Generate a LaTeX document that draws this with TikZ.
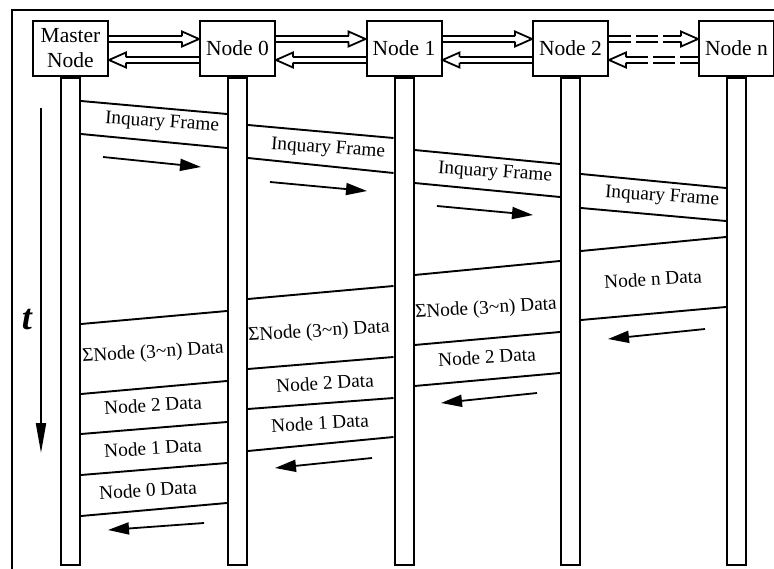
\documentclass[tikz,border=0pt]{standalone}
\usepackage{fontspec}
\setmainfont{Liberation Serif}
\usetikzlibrary{arrows.meta,calc}

\tikzset{
  box/.style={draw, line width=2pt, fill=white, minimum width=75pt, minimum height=55pt,
    inner sep=0pt, align=center, font=\fontsize{21.5}{25}\selectfont},
  lifebar/.style={draw, line width=2pt, minimum width=19pt, minimum height=487pt,
    inner sep=0pt, anchor=north},
  bandline/.style={line width=1.9pt},
  pipe/.style={line width=1.8pt, line join=miter},
  msg/.style={font=\fontsize{19.3}{22}\selectfont, inner sep=0pt},
  flow/.style={line width=1.8pt, -{Triangle[length=21pt,width=12pt]}},
}

% slanted band edge between two lifelines: left y, right y (absolute)
\newcommand\band[4]{\draw[bandline] ($(#1.north east)+(0,#3-76)$) -- ($(#2.north west)+(0,#4-76)$);}

% pair of hollow pipes between two boxes; optional shaft style
\newcommand\pipes[3][]{%
  \draw[pipe] let \p1=(#2.east), \p2=(#3.west) in
    (\x2-17pt,\y1+6.75pt) -- (\x2-17pt,\y1+2pt) -- (\x2,\y1+9.5pt) -- (\x2-17pt,\y1+17pt) -- (\x2-17pt,\y1+12.25pt)
    (\x1+17pt,\y1-8.75pt) -- (\x1+17pt,\y1-4pt) -- (\x1,\y1-11.5pt) -- (\x1+17pt,\y1-19pt) -- (\x1+17pt,\y1-14.25pt);
  \draw[pipe,#1] let \p1=(#2.east), \p2=(#3.west) in
    (\x1,\y1+12.25pt) -- (\x2-17pt,\y1+12.25pt)
    (\x1,\y1+6.75pt) -- (\x2-17pt,\y1+6.75pt)
    (\x1+17pt,\y1-8.75pt) -- (\x2,\y1-8.75pt)
    (\x1+17pt,\y1-14.25pt) -- (\x2,\y1-14.25pt);
}

\begin{document}
\begin{tikzpicture}[x=1pt,y=-1pt]
\useasboundingbox (0,0) rectangle (774,569);

% frame
\draw[line width=2pt] (12,569) -- (12,10) -- (774,10);

% station boxes
\node[box] (m)  at (70.5,48.5) {Master\\Node};
\node[box] (n0) at (237.5,48.5) {Node 0};
\node[box] (n1) at (404,48.5) {Node 1};
\node[box] (n2) at (570.5,48.5) {Node 2};
\node[box] (nn) at (736.5,48.5) {Node n};

% lifelines
\node[lifebar] (lm)  at (m.south) {};
\node[lifebar] (l0)  at (n0.south) {};
\node[lifebar] (l1)  at (n1.south) {};
\node[lifebar] (l2)  at (n2.south) {};
\node[lifebar] (ln)  at (nn.south) {};

% bus links between stations
\pipes{m}{n0}
\pipes{n0}{n1}
\pipes{n1}{n2}
\pipes[dash pattern=on 22pt off 5pt]{n2}{nn}

% time axis
\coordinate (tA) at (41,108);
\coordinate (tB) at (41,453);
\draw[line width=2pt, -{Triangle[length=30pt,width=10pt]}] (tA) -- (tB);
\node[font=\fontsize{36}{36}\selectfont\bfseries\itshape, inner sep=0pt] (tl) at (27,320) {t};

% inquiry frame travelling downstream
\band{lm}{l0}{100}{113} \band{lm}{l0}{133}{147}
\band{l0}{l1}{124}{137} \band{l0}{l1}{157}{172}
\band{l1}{l2}{149}{163} \band{l1}{l2}{182}{196}
\band{l2}{ln}{173}{187} \band{l2}{ln}{207}{220}

\node[msg, rotate=-4] (q0) at (162,123) {Inquary Frame};
\node[msg, rotate=-4] (q1) at (328,149) {Inquary Frame};
\node[msg, rotate=-4] (q2) at (495,173) {Inquary Frame};
\node[msg, rotate=-4] (q3) at (662,197) {Inquary Frame};

\draw[flow] (103,157) -- (201,167);
\draw[flow] (270,182) -- (367,191);
\draw[flow] (437,206) -- (533,215);

% data travelling back upstream
\band{l2}{ln}{250}{236} \band{l2}{ln}{319}{306}
\band{l1}{l2}{274}{260} \band{l1}{l2}{344}{331} \band{l1}{l2}{385}{372}
\band{l0}{l1}{298}{285} \band{l0}{l1}{368}{356} \band{l0}{l1}{408}{397} \band{l0}{l1}{450}{436}
\band{lm}{l0}{323}{310} \band{lm}{l0}{393}{380} \band{lm}{l0}{433}{421} \band{lm}{l0}{474}{462} \band{lm}{l0}{515}{502}

\node[msg, rotate=3.5] (dn)  at (653,279) {Node n Data};
\node[msg, rotate=3.5] (s2)  at (486,309) {ΣNode (3\textasciitilde n) Data};
\node[msg, rotate=3.5] (s1)  at (319,332) {ΣNode (3\textasciitilde n) Data};
\node[msg, rotate=3.5] (s0)  at (153,353) {ΣNode (3\textasciitilde n) Data};
\node[msg, rotate=3.5] (d21) at (487,357) {Node 2 Data};
\node[msg, rotate=3.5] (d20) at (325,383) {Node 2 Data};
\node[msg, rotate=3.5] (d2m) at (153,405) {Node 2 Data};
\node[msg, rotate=3.5] (d10) at (320,423) {Node 1 Data};
\node[msg, rotate=3.5] (d1m) at (153,448) {Node 1 Data};
\node[msg, rotate=3.5] (d0m) at (148,490) {Node 0 Data};

\draw[flow] (705,329) -- (608,339);
\draw[flow] (537,393) -- (441,403);
\draw[flow] (372,458) -- (275,468);
\draw[flow] (204,523) -- (108,530);
\end{tikzpicture}
\end{document}
